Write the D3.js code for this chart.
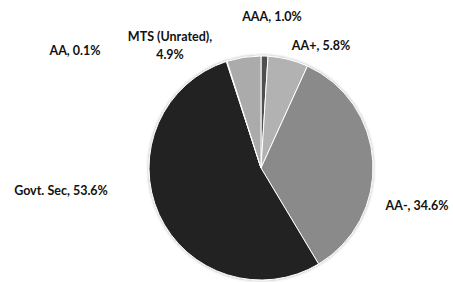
<!DOCTYPE html>
<html>
<head>
<meta charset="utf-8">
<script src="https://cdn.jsdelivr.net/npm/d3@7.9.0/dist/d3.min.js"></script>
<style>
  body { margin: 0; background: #fff; }
  text { font-family: Lato, "Open Sans", sans-serif; font-weight: bold; font-size: 12.5px; fill: #111; }
</style>
</head>
<body>
<svg id="chart" width="453" height="282"></svg>
<script>
const categories = ['AAA', 'AA+', 'AA-', 'Govt. Sec', 'AA', 'MTS (Unrated)'];
const values = [1.0, 5.8, 34.6, 53.6, 0.1, 4.9];
const colors = ['#4f4f4f', '#b2b2b2', '#8a8a8a', '#212121', '#6a6a6a', '#ababab'];

// label placement (text lines + anchor point), layout only
const labelLayout = [
    { lines: ['AAA, 1.0%'], x: 272, y: 21 },
    { lines: ['AA+, 5.8%'], x: 321, y: 50 },
    { lines: ['AA-, 34.6%'], x: 417, y: 210 },
    { lines: ['Govt. Sec, 53.6%'], x: 61, y: 195 },
    { lines: ['AA, 0.1%'], x: 75, y: 55 },
    { lines: ['MTS (Unrated),', '4.9%'], x: 170, y: 41 }
];

const cx = 261, cy = 168, radius = 112;

const svg = d3.select('#chart');
const defs = svg.append('defs');
const shadow = defs.append('filter').attr('id', 'shadow')
    .attr('x', '-10%').attr('y', '-10%').attr('width', '120%').attr('height', '120%');
shadow.append('feDropShadow')
    .attr('dx', 0).attr('dy', 0).attr('stdDeviation', 1.5)
    .attr('flood-color', '#000').attr('flood-opacity', 0.35);

const data = categories.map((c, i) => ({ label: c, value: values[i] }));
const pie = d3.pie().sort(null).value(d => d.value);
const arc = d3.arc().innerRadius(0).outerRadius(radius);

const g = svg.append('g').attr('transform', `translate(${cx},${cy})`);
g.append('g').attr('filter', 'url(#shadow)')
    .selectAll('path')
    .data(pie(data))
    .join('path')
    .attr('d', arc)
    .attr('fill', (d, i) => colors[i])
    .attr('stroke', '#fff')
    .attr('stroke-width', 1);

labelLayout.forEach(l => {
    const t = svg.append('text')
        .attr('text-anchor', 'middle')
        .attr('x', l.x).attr('y', l.y);
    l.lines.forEach((line, j) => {
        t.append('tspan').attr('x', l.x).attr('dy', j === 0 ? 0 : 18).text(line);
    });
});
</script>
</body>
</html>
